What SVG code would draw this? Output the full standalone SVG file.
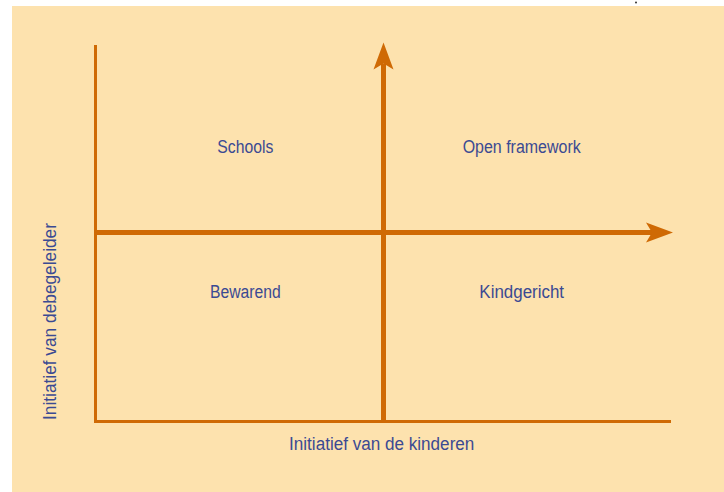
<svg xmlns="http://www.w3.org/2000/svg" width="724" height="492" viewBox="0 0 724 492">
  <style>
    .lbl { font-family: "Liberation Sans", Arial, sans-serif; font-size: 18px; fill: #3b4a93; }
    .axis { stroke: #cf6a05; fill: none; }
  </style>
  <defs>
    <marker id="ah" markerUnits="userSpaceOnUse" viewBox="-8 -12 32 24" markerWidth="32" markerHeight="24" refX="0" refY="0" orient="auto" overflow="visible">
      <path d="M21,0 L-6,-10 L0,0 L-6,10 Z" fill="#cf6a05"/>
    </marker>
  </defs>
  <rect x="0" y="0" width="724" height="492" fill="#ffffff"/>
  <rect x="12" y="6" width="712" height="486" fill="#fde2ae"/>
  <circle cx="636" cy="2.5" r="1" fill="#333333"/>

  <g id="connectors">
    <polyline class="axis" stroke-width="3" points="95.5,45 95.5,421.5 671,421.5"/>
    <line class="axis" stroke-width="5" x1="383.5" y1="423" x2="383.5" y2="63.5" marker-end="url(#ah)"/>
    <line class="axis" stroke-width="5" x1="95" y1="232.5" x2="652" y2="232.5" marker-end="url(#ah)"/>
  </g>

  <g id="schools"><text class="lbl" x="245.3" y="153.3" text-anchor="middle" textLength="56" lengthAdjust="spacingAndGlyphs">Schools</text></g>
  <g id="open-framework"><text class="lbl" x="521.7" y="153.3" text-anchor="middle" textLength="118" lengthAdjust="spacingAndGlyphs">Open framework</text></g>
  <g id="bewarend"><text class="lbl" x="245.3" y="297.7" text-anchor="middle" textLength="70.7" lengthAdjust="spacingAndGlyphs">Bewarend</text></g>
  <g id="kindgericht"><text class="lbl" x="521.7" y="297.7" text-anchor="middle" textLength="84.7" lengthAdjust="spacingAndGlyphs">Kindgericht</text></g>
  <g id="x-label"><text class="lbl" x="381.7" y="450" text-anchor="middle" textLength="185.3" lengthAdjust="spacingAndGlyphs">Initiatief van de kinderen</text></g>
  <g id="y-label"><text class="lbl" x="0" y="0" transform="translate(56,321.5) rotate(-90)" text-anchor="middle" textLength="197" lengthAdjust="spacingAndGlyphs">Initiatief van debegeleider</text></g>
</svg>
